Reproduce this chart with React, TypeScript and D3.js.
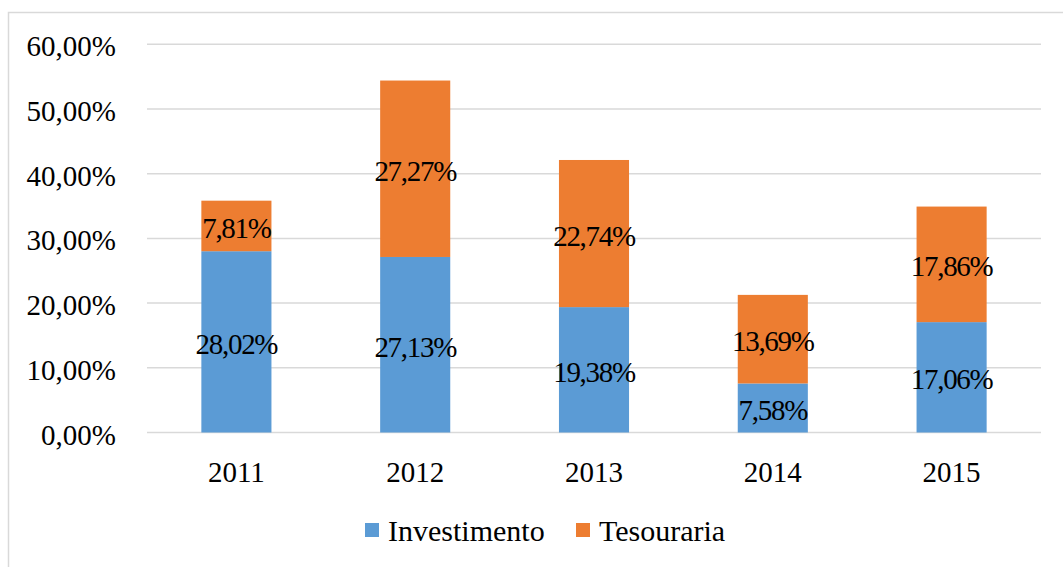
import React from "react";
import * as d3 from "d3";

const years = ["2011", "2012", "2013", "2014", "2015"];
const investimento = [28.02, 27.13, 19.38, 7.58, 17.06];
const tesouraria = [7.81, 27.27, 22.74, 13.69, 17.86];
const yTicks = [0, 10, 20, 30, 40, 50, 60];
const seriesNames = ["Investimento", "Tesouraria"];
const colors = ["#5B9BD5", "#ED7D31"];

const W = 1063;
const H = 567;
const FONT = "'Liberation Serif', 'Times New Roman', serif";
const FS = 29;

const fmt = (v: number) => v.toFixed(2).replace(".", ",") + "%";

export default function App() {
  const x = d3.scaleBand().domain(years).range([147, 1041]).paddingInner(0.608).paddingOuter(0.304);
  const y = d3.scaleLinear().domain([0, 60]).range([432.5, 44.3]);

  const rows = years.map((yr, i) => ({ year: yr, Investimento: investimento[i], Tesouraria: tesouraria[i] }));
  const stack = d3.stack<any>().keys(seriesNames)(rows);

  return (
    <svg width={W} height={H} style={{ position: "absolute", left: 0, top: 0 }} fontFamily={FONT}>
      <rect x={0} y={0} width={W} height={H} fill="#fff" />
      <rect x={8.5} y={12.5} width={W + 10} height={H + 10} fill="none" stroke="#D9D9D9" strokeWidth={1.5} />
      {yTicks.map((t) => (
        <g key={t}>
          <line x1={147} x2={1041} y1={y(t)} y2={y(t)} stroke="#D9D9D9" strokeWidth={1.5} />
          <text x={116} y={y(t) + 12} textAnchor="end" fontSize={FS} fill="#000" fontFamily={FONT}>
            {fmt(t)}
          </text>
        </g>
      ))}
      {stack.map((layer, si) => (
        <g key={si}>
          {layer.map((d, i) => (
            <rect
              key={i}
              x={x(years[i])}
              width={x.bandwidth()}
              y={y(d[1])}
              height={y(d[0]) - y(d[1])}
              fill={colors[si]}
            />
          ))}
        </g>
      ))}
      {stack.map((layer, si) => (
        <g key={"l" + si}>
          {layer.map((d, i) => (
            <text
              key={i}
              x={(x(years[i]) as number) + x.bandwidth() / 2}
              y={(y(d[0]) + y(d[1])) / 2 + 12}
              textAnchor="middle"
              fontSize={FS}
              letterSpacing={-1.3}
              fill="#000"
              fontFamily={FONT}
            >
              {fmt(d[1] - d[0])}
            </text>
          ))}
        </g>
      ))}
      {years.map((yr) => (
        <text
          key={yr}
          x={(x(yr) as number) + x.bandwidth() / 2}
          y={482}
          textAnchor="middle"
          fontSize={FS}
          fill="#000"
          fontFamily={FONT}
        >
          {yr}
        </text>
      ))}
      {seriesNames.map((s, i) => {
        const lx = [365, 576][i];
        return (
          <g key={s}>
            <rect x={lx} y={523} width={14} height={14} fill={colors[i]} />
            <text x={lx + 23} y={541} fontSize={30} fill="#000" fontFamily={FONT}>
              {s}
            </text>
          </g>
        );
      })}
    </svg>
  );
}
